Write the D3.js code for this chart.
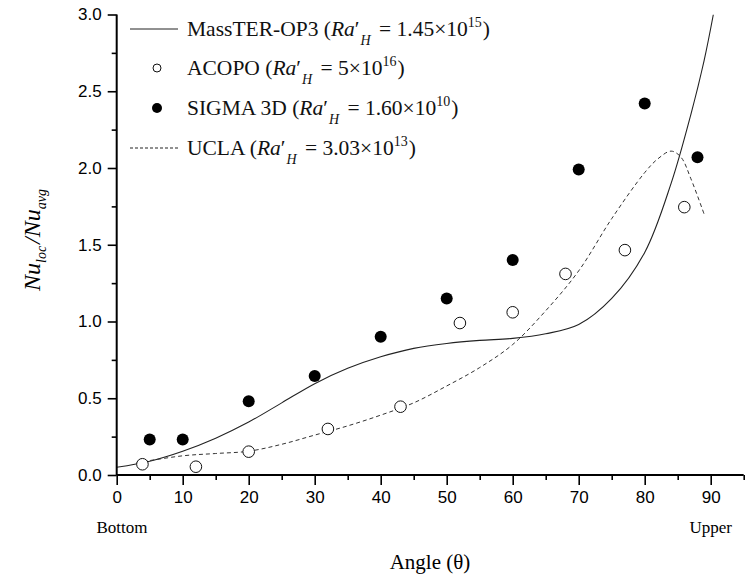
<!DOCTYPE html>
<html lang="en">
<head>
<meta charset="UTF-8">
<title>Nu loc / Nu avg vs angle</title>
<script src="https://d3js.org/d3.v7.min.js"></script>
<style>
  body { margin: 0; background: #fff; }
  svg { display: block; }
</style>
</head>
<body>
<svg width="748" height="574"></svg>
<script>
// ---- data ----
var massterAngle = [0, 5, 10, 15, 20, 25, 30, 35, 40, 45, 50, 55, 60, 65, 70, 75, 80, 84, 87, 89, 90.4];
var massterNu    = [0.05, 0.09, 0.155, 0.24, 0.345, 0.47, 0.595, 0.695, 0.77, 0.825, 0.857, 0.877, 0.89, 0.92, 0.98, 1.15, 1.45, 1.90, 2.35, 2.70, 3.0];

var acopoAngle = [3.9, 12, 20, 32, 43, 52, 60, 68, 77, 86];
var acopoNu    = [0.07, 0.054, 0.152, 0.30, 0.445, 0.99, 1.06, 1.31, 1.465, 1.745];

var sigmaAngle = [5, 10, 20, 30, 40, 50, 60, 70, 80, 88];
var sigmaNu    = [0.232, 0.232, 0.48, 0.645, 0.90, 1.15, 1.40, 1.99, 2.42, 2.07];

var uclaAngle = [3, 10, 15, 20, 25, 30, 35, 40, 45, 50, 55, 60, 65, 70, 75, 80, 82, 84, 85.5, 87, 89];
var uclaNu    = [0.08, 0.125, 0.14, 0.155, 0.20, 0.26, 0.32, 0.39, 0.47, 0.58, 0.70, 0.85, 1.07, 1.33, 1.67, 1.97, 2.06, 2.11, 2.07, 1.93, 1.70];

var xTicks = [0, 10, 20, 30, 40, 50, 60, 70, 80, 90];
var xMinor = [5, 15, 25, 35, 45, 55, 65, 75, 85, 95];
var yTicks = [0, 0.5, 1.0, 1.5, 2.0, 2.5, 3.0];
var yMinor = [0.25, 0.75, 1.25, 1.75, 2.25, 2.75];

var svg = d3.select('svg');
var serif = '"Liberation Serif", "Times New Roman", serif';
var sans = '"Liberation Sans", Arial, sans-serif';

var x = d3.scaleLinear().domain([0, 95]).range([116.7, 743.7]);
var y = d3.scaleLinear().domain([0, 3]).range([475, 14.5]);

function zip(a, b) { return a.map(function (v, i) { return [v, b[i]]; }); }

// clip so the steep curve stops at the top of the plot
svg.append('clipPath').attr('id', 'plot')
  .append('rect').attr('x', x(0)).attr('y', y(3)).attr('width', x(95) - x(0)).attr('height', y(0) - y(3));

var line = d3.line().x(function (d) { return x(d[0]); }).y(function (d) { return y(d[1]); })
  .curve(d3.curveCatmullRom.alpha(0.5));

var g = svg.append('g').attr('clip-path', 'url(#plot)');

g.append('path').datum(zip(massterAngle, massterNu))
  .attr('d', line).attr('fill', 'none').attr('stroke', '#222').attr('stroke-width', 1.1);

g.append('path').datum(zip(uclaAngle, uclaNu))
  .attr('d', line).attr('fill', 'none').attr('stroke', '#333').attr('stroke-width', 1)
  .attr('stroke-dasharray', '4,3');

svg.selectAll('circle.acopo').data(zip(acopoAngle, acopoNu)).enter()
  .append('circle').attr('class', 'acopo')
  .attr('cx', function (d) { return x(d[0]); })
  .attr('cy', function (d) { return y(d[1]); })
  .attr('r', 5.8).attr('fill', '#fff').attr('stroke', '#111').attr('stroke-width', 1);

svg.selectAll('circle.sigma').data(zip(sigmaAngle, sigmaNu)).enter()
  .append('circle').attr('class', 'sigma')
  .attr('cx', function (d) { return x(d[0]); })
  .attr('cy', function (d) { return y(d[1]); })
  .attr('r', 6).attr('fill', '#000');

// axes
var xAxis = svg.append('g').attr('transform', 'translate(0,' + y(0) + ')')
  .call(d3.axisBottom(x).tickValues(xTicks).tickSize(10).tickPadding(6).tickFormat(d3.format('d')));
svg.append('g').attr('transform', 'translate(0,' + y(0) + ')')
  .call(d3.axisBottom(x).tickValues(xMinor).tickSize(5).tickFormat(''))
  .select('.domain').remove();

var yAxis = svg.append('g').attr('transform', 'translate(' + x(0) + ',0)')
  .call(d3.axisLeft(y).tickValues(yTicks).tickSize(9).tickPadding(6).tickFormat(d3.format('.1f')));
svg.append('g').attr('transform', 'translate(' + x(0) + ',0)')
  .call(d3.axisLeft(y).tickValues(yMinor).tickSize(5).tickFormat(''))
  .select('.domain').remove();

svg.selectAll('.domain').attr('stroke', '#000').attr('stroke-width', 2);
svg.selectAll('.tick line').attr('stroke', '#000').attr('stroke-width', 1.6);
svg.selectAll('.tick text').attr('font-family', sans).attr('font-size', 17).attr('fill', '#000');
xAxis.select('.domain').attr('d', 'M' + x(0) + ',0H' + x(95));
yAxis.select('.domain').attr('d', 'M0,' + y(0) + 'V' + y(3));

// axis titles
svg.append('text').attr('x', 122).attr('y', 533).attr('text-anchor', 'middle')
  .attr('font-family', serif).attr('font-size', 17).text('Bottom');
svg.append('text').attr('x', x(90)).attr('y', 533).attr('text-anchor', 'middle')
  .attr('font-family', serif).attr('font-size', 17).text('Upper');
svg.append('text').attr('x', 430).attr('y', 569).attr('text-anchor', 'middle')
  .attr('font-family', serif).attr('font-size', 21).text('Angle (\u03b8)');

var yl = svg.append('text').attr('transform', 'translate(40,240) rotate(-90)')
  .attr('text-anchor', 'middle').attr('font-family', serif).attr('font-style', 'italic').attr('font-size', 24);
yl.append('tspan').text('Nu');
yl.append('tspan').attr('font-size', 14).attr('dy', 6).text('loc');
yl.append('tspan').attr('dy', -6).attr('dx', 2).text('/Nu');
yl.append('tspan').attr('font-size', 14).attr('dy', 6).text('avg');

// legend
var legendNames = ['MassTER-OP3', 'ACOPO', 'SIGMA 3D', 'UCLA'];
var legendCoef  = ['1.45\u00d710', '5\u00d710', '1.60\u00d710', '3.03\u00d710'];
var legendExp   = ['15', '16', '10', '13'];
var legendY     = [36, 75, 115, 155];

legendNames.forEach(function (name, i) {
  var ly = legendY[i];
  var cy = ly - 7;
  if (i === 0 || i === 3) {
    svg.append('line').attr('x1', 130).attr('x2', 178).attr('y1', cy).attr('y2', cy)
      .attr('stroke', '#222').attr('stroke-width', 1)
      .attr('stroke-dasharray', i === 3 ? '3,2' : null);
  } else if (i === 1) {
    svg.append('circle').attr('cx', 157).attr('cy', cy).attr('r', 4)
      .attr('fill', '#fff').attr('stroke', '#111').attr('stroke-width', 1);
  } else {
    svg.append('circle').attr('cx', 157).attr('cy', cy).attr('r', 5).attr('fill', '#000');
  }
  var t = svg.append('text').attr('x', 187).attr('y', ly)
    .attr('font-family', serif).attr('font-size', 21.5).attr('fill', '#111');
  t.append('tspan').text(name + ' (');
  t.append('tspan').attr('font-style', 'italic').text('Ra');
  t.append('tspan').text('\u2032');
  t.append('tspan').attr('font-style', 'italic').attr('font-size', 14).attr('dy', 9).attr('dx', 1).text('H');
  t.append('tspan').attr('dy', -9).attr('dx', 3).text(' = ' + legendCoef[i]);
  t.append('tspan').attr('font-size', 14).attr('dy', -9).text(legendExp[i]);
  t.append('tspan').attr('dy', 9).attr('dx', 1).text(')');
});
</script>
</body>
</html>
